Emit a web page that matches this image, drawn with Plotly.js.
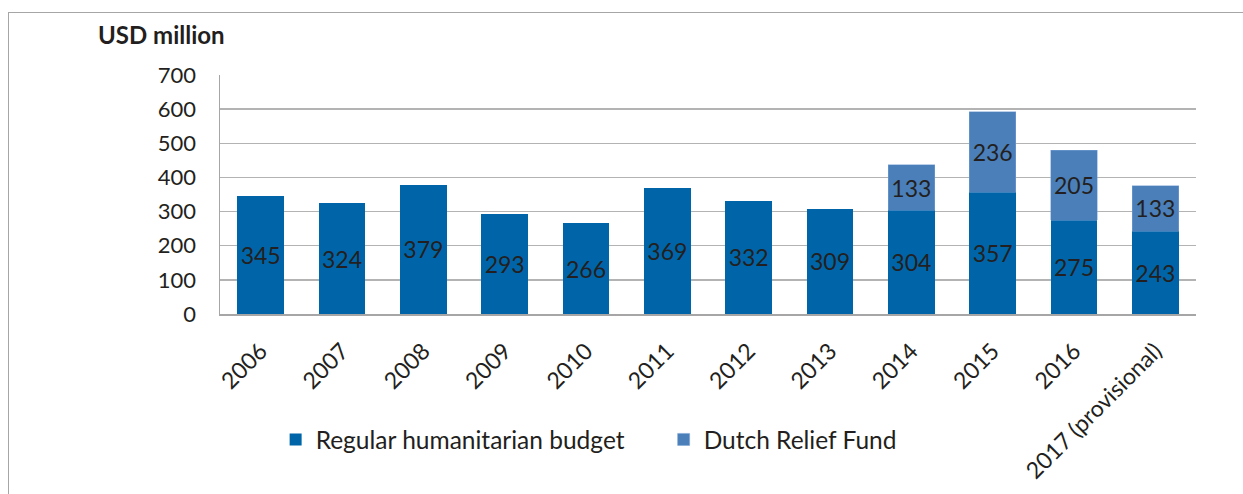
<!DOCTYPE html>
<html>
<head>
<meta charset="utf-8">
<script src="https://cdn.plot.ly/plotly-3.0.1.min.js"></script>
<style>
html,body{margin:0;padding:0;background:#fff;}
#wrap{position:absolute;left:0;top:0;width:1243px;height:494px;}
#frame{position:absolute;left:8px;top:12px;width:1240px;height:490px;border-left:1px solid #a6a6a6;border-top:1px solid #a6a6a6;}
#chart{position:absolute;left:0;top:0;width:1243px;height:494px;}
</style>
</head>
<body>
<div id="wrap"><div id="frame"></div><div id="chart"></div></div>
<script>
const categories = ["2006","2007","2008","2009","2010","2011","2012","2013","2014","2015","2016","2017 (provisional)"];
const regularBudget = [345,324,379,293,266,369,332,309,304,357,275,243];
const reliefFund = [null,null,null,null,null,null,null,null,133,236,205,133];
const yTicks = [0,100,200,300,400,500,600,700];

const FONT = "Lato, 'Liberation Sans', sans-serif";
const TXT = "#231f20";

const traces = [
  {
    type: "bar", name: "Regular humanitarian budget",
    x: categories, y: regularBudget,
    marker: {color: "#0065a8", line: {color: "#0065a8", width: 0}},
    text: regularBudget.map(String), textposition: "inside", insidetextanchor: "middle",
    textfont: {family: FONT, size: 23, color: TXT}, constraintext: "none",
    hoverinfo: "skip"
  },
  {
    type: "bar", name: "Dutch Relief Fund",
    x: categories, y: reliefFund,
    marker: {color: "#4a7fba", line: {color: "#7aa3d4", width: 0.5}},
    text: reliefFund.map(v => v == null ? "" : String(v)), textposition: "inside", insidetextanchor: "middle",
    textfont: {family: FONT, size: 23, color: TXT}, constraintext: "none",
    hoverinfo: "skip"
  }
];

const layout = {
  width: 1243, height: 494,
  paper_bgcolor: "rgba(0,0,0,0)", plot_bgcolor: "rgba(0,0,0,0)",
  margin: {l: 220, r: 47, t: 75, b: 180, pad: 0},
  barmode: "stack", bargap: 0.43,
  font: {family: FONT, size: 22, color: TXT},
  showlegend: true,
  legend: {
    orientation: "h", traceorder: "normal", x: 0.057, xanchor: "left", y: -0.525, yanchor: "middle",
    font: {family: FONT, size: 24.5, color: TXT}, entrywidth: 343, entrywidthmode: "pixels",
    itemclick: false, itemdoubleclick: false, bgcolor: "rgba(0,0,0,0)"
  },
  xaxis: {
    type: "category", tickangle: -45, showgrid: false,
    showline: true, linecolor: "#a6a6a6", linewidth: 1.5,
    ticks: "", ticklabelstandoff: 13, tickfont: {family: FONT, size: 23, color: TXT}, fixedrange: true
  },
  yaxis: {
    range: [0, 700], tickvals: yTicks, ticktext: yTicks.map(String),
    showgrid: true, gridcolor: "#b3b3b3", gridwidth: 1.5,
    showline: true, linecolor: "#a6a6a6", linewidth: 1.5, zeroline: false,
    ticks: "", ticklabelstandoff: 18, tickfont: {family: FONT, size: 22, color: TXT}, fixedrange: true
  },
  annotations: [{
    text: "<b>USD million</b>", xref: "paper", yref: "paper",
    x: -0.127, y: 1.17, xanchor: "left", yanchor: "middle", showarrow: false,
    font: {family: FONT, size: 24, color: TXT}
  }]
};

Plotly.newPlot("chart", traces, layout, {displayModeBar: false, staticPlot: true});
</script>
</body>
</html>
